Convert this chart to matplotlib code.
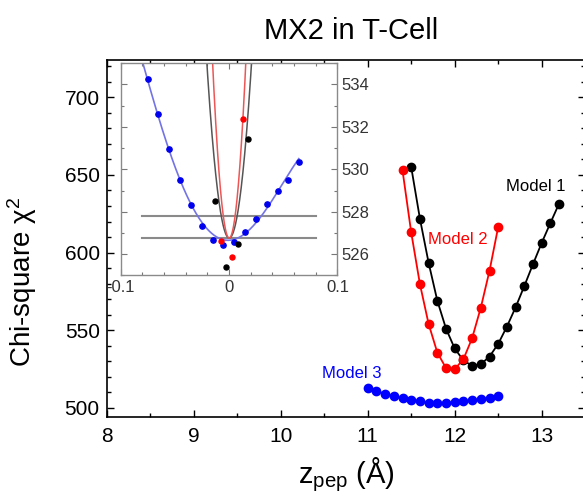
import numpy as np
import matplotlib
matplotlib.use("Agg")
import matplotlib.pyplot as plt
from matplotlib.ticker import MultipleLocator

plt.rcParams['font.family'] = ['Liberation Sans', 'DejaVu Sans']
plt.rcParams['mathtext.fontset'] = 'custom'
plt.rcParams['mathtext.rm'] = 'Liberation Sans'
plt.rcParams['mathtext.it'] = 'Liberation Sans'

# ---------------- data (main panel) ----------------
m1_z = [11.5, 11.6, 11.7, 11.8, 11.9, 12.0, 12.1, 12.2, 12.3, 12.4, 12.5,
        12.6, 12.7, 12.8, 12.9, 13.0, 13.1, 13.2]
m1_chi = [655.1, 621.9, 593.5, 569.1, 551.1, 538.3, 530.6, 527.2, 528.2, 533.1,
          541.3, 552.4, 564.8, 578.5, 592.6, 606.3, 619.1, 631.6]

m2_z = [11.4, 11.5, 11.6, 11.7, 11.8, 11.9, 12.0, 12.1, 12.2, 12.3, 12.4, 12.5]
m2_chi = [653.0, 613.0, 579.8, 554.1, 535.7, 525.7, 525.0, 531.4, 544.9, 564.6,
          588.3, 616.6]

m3_z = [11.0, 11.1, 11.2, 11.3, 11.4, 11.5, 11.6, 11.7, 11.8, 11.9, 12.0,
        12.1, 12.2, 12.3, 12.4, 12.5]
m3_chi = [512.8, 510.7, 509.2, 507.5, 506.2, 504.9, 504.2, 503.2, 503.0, 503.2,
          503.6, 504.2, 504.9, 505.8, 506.4, 507.5]

labels = ["Model 1", "Model 2", "Model 3"]
label_pos = [(12.59, 642.5), (11.69, 608.5), (10.47, 522.5)]

# ---------------- data (inset) ----------------
in_blue_x = [-0.0751, -0.0653, -0.0555, -0.0453, -0.0352, -0.0251, -0.0152,
             -0.0054, 0.0047, 0.0146, 0.0246, 0.0346, 0.0447, 0.0546, 0.0646]
in_blue_y = [534.25, 532.60, 530.98, 529.50, 528.31, 527.33, 526.67, 526.44,
             526.58, 527.04, 527.68, 528.36, 529.00, 529.51, 530.33]
in_black_x = [-0.0128, -0.0025, 0.0078, 0.0171]
in_black_y = [528.51, 525.39, 526.49, 531.44]
in_red_x = [-0.0076, 0.0029, 0.0130]
in_red_y = [526.64, 525.88, 532.38]

# fit curves (sample points)
fit_blue_x = [-0.0797, -0.0653, -0.0552, -0.0453, -0.0355, -0.0253, -0.0161,
              -0.0018, 0.0146, 0.0268, 0.0422, 0.0545, 0.0643]
fit_blue_y = [534.93, 532.65, 531.0, 529.5, 528.29, 527.35, 526.91, 526.75,
              527.15, 527.70, 528.64, 529.50, 530.68]
fit_black_x = [-0.0205, 0.0, 0.0207]
fit_black_y = [535.0, 526.76, 535.0]
fit_red_x = [-0.0152, 0.0, 0.0154]
fit_red_y = [535.0, 526.76, 535.0]

hlines_y = [526.78, 527.80]
hlines_x = (-0.08, 0.08)

# ---------------- figure ----------------
fig = plt.figure(figsize=(5.83, 5.04), dpi=100)
ax = fig.add_axes([0.1830, 0.1720, 0.8208, 0.7090])

lw = 1.3
ms = 6
ax.plot(m1_z, m1_chi, '-o', color='black', lw=lw, ms=ms)
ax.plot(m2_z, m2_chi, '-o', color='#ff0000', lw=lw, ms=ms)
ax.plot(m3_z, m3_chi, '-o', color='#0000ff', lw=lw, ms=ms)

for txt, (px, py), c in zip(labels, label_pos, ['black', '#ff0000', '#0000ff']):
    ax.text(px, py, txt, color=c, fontsize=12, ha='left', va='center')

ax.set_xlim(8, 13.5)
ax.set_ylim(494, 724)
ax.xaxis.set_major_locator(MultipleLocator(1))
ax.xaxis.set_minor_locator(MultipleLocator(0.5))
ax.yaxis.set_major_locator(MultipleLocator(50))
ax.yaxis.set_minor_locator(MultipleLocator(10))
ax.tick_params(which='both', direction='in', top=True, right=True, width=1)
ax.tick_params(which='major', length=5, labelsize=15)
ax.tick_params(axis='x', which='major', pad=7)
ax.tick_params(axis='y', which='major', pad=5)
ax.tick_params(which='minor', length=3)
for s in ax.spines.values():
    s.set_linewidth(1.2)

ax.set_title('MX2 in T-Cell', fontsize=21, pad=15, x=0.51)
ax.set_xlabel(r'z$_{\mathregular{pep}}$ (Å)', fontsize=21, labelpad=7)
ax.set_ylabel(r'Chi-square $\mathregular{\chi^2}$', fontsize=20)
ax.yaxis.set_label_coords(-0.142, 0.38)

# ---------------- inset ----------------
ins = fig.add_axes([0.2070, 0.4534, 0.3719, 0.4212])
ins.set_facecolor('white')

xb = np.linspace(min(fit_blue_x), max(fit_blue_x), 200)
pb = np.polyfit(fit_blue_x, fit_blue_y, 4)
ins.plot(xb, np.polyval(pb, xb), color='#7373e6', lw=1.2, zorder=2)

xs = np.linspace(-0.03, 0.03, 300)
pk = np.polyfit(fit_black_x, fit_black_y, 2)
ins.plot(xs, np.polyval(pk, xs), color='#555555', lw=1.1, zorder=2)
pr = np.polyfit(fit_red_x, fit_red_y, 2)
ins.plot(xs, np.polyval(pr, xs), color='#ee5555', lw=1.1, zorder=2)

for hy in hlines_y:
    ins.plot(hlines_x, [hy, hy], color='#8a8a8a', lw=1.5, zorder=1)

ins.plot(in_blue_x, in_blue_y, 'o', color='#0000ee', ms=3.8, zorder=3)
ins.plot(in_black_x, in_black_y, 'o', color='black', ms=3.6, zorder=3)
ins.plot(in_red_x, in_red_y, 'o', color='#ff0000', ms=3.6, zorder=3)

ins.set_xlim(-0.1, 0.1)
ins.set_ylim(525, 535)
ins.set_xticks([-0.1, 0, 0.1])
ins.set_xticklabels(['-0.1', '0', '0.1'])
ins.xaxis.set_minor_locator(MultipleLocator(0.02))
ins.yaxis.set_minor_locator(MultipleLocator(1))
ins.set_yticks([526, 528, 530, 532, 534])
ins.yaxis.tick_right()
ins.tick_params(which='both', direction='in', top=True, left=True, right=True,
                bottom=True, labelleft=False, labelright=True,
                color='#777777', width=0.8)
ins.tick_params(which='major', length=4, labelsize=12, pad=3, labelcolor='#333333')
ins.tick_params(which='minor', length=2.5)
for s in ins.spines.values():
    s.set_color('#8a8a8a')
    s.set_linewidth(1.0)

fig.savefig('out.png', dpi=100)
